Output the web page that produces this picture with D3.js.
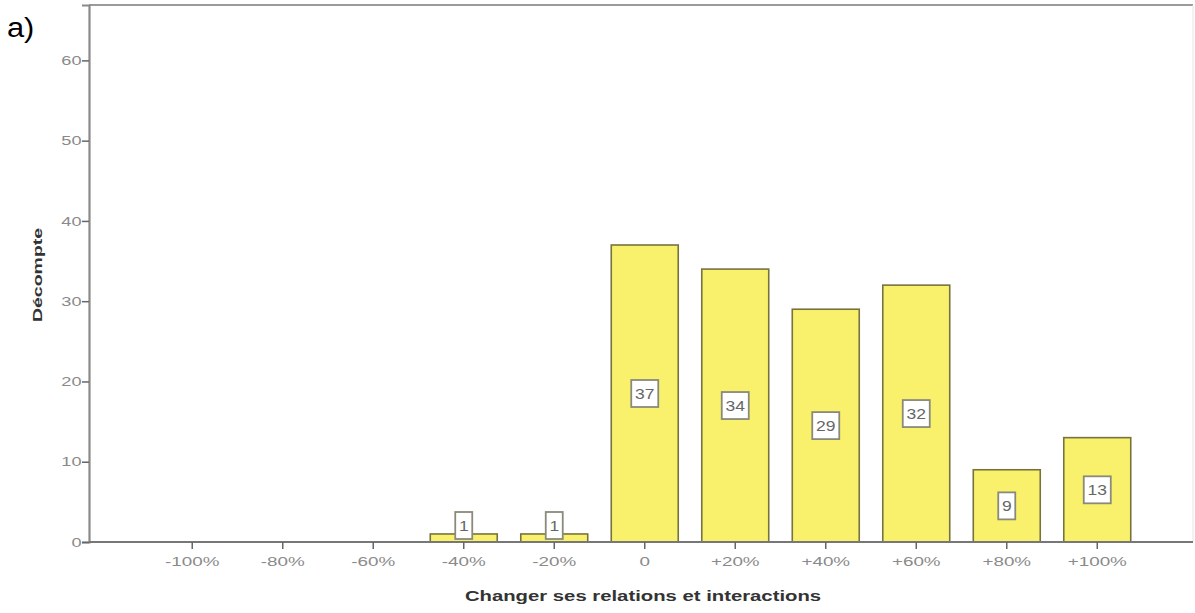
<!DOCTYPE html>
<html><head><meta charset="utf-8">
<script src="https://cdn.jsdelivr.net/npm/d3@7"></script>
<style>body{margin:0;background:#fff;} svg{display:block;font-family:Arial, "Liberation Sans", sans-serif;}</style>
</head><body>
<script>
const categories = ["-100%","-80%","-60%","-40%","-20%","0","+20%","+40%","+60%","+80%","+100%"];
const counts = [0,0,0,1,1,37,34,29,32,9,13];
const yTicks = [0,10,20,30,40,50,60];
const xTitle = "Changer ses relations et interactions";
const yTitle = "Décompte";
const panelLabel = "a)";

const W = 1195, H = 613;
const plot = {left: 89, right: 1193, top: 5, bottom: 542};
const SX = 1.45; // horizontal stretch of text seen in the reference
const svg = d3.select("body").append("svg").attr("width", W).attr("height", H);

const y = d3.scaleLinear().domain([0, 66.9]).range([plot.bottom, plot.top]);
const x = d3.scaleBand().domain(categories).range([113.5, 1176]).paddingInner(0.26).paddingOuter(0.5);

// frame
svg.append("line").attr("x1", plot.left).attr("x2", plot.right).attr("y1", plot.top).attr("y2", plot.top)
  .attr("stroke", "#9a9a9a").attr("stroke-width", 2);
svg.append("line").attr("x1", plot.right).attr("x2", plot.right).attr("y1", plot.top).attr("y2", plot.bottom)
  .attr("stroke", "#e6e6e6").attr("stroke-width", 1);

// bars
const data = counts.map((v,i)=>({c:categories[i], v}));
svg.append("g").selectAll("rect.bar").data(data.filter(d=>d.v>0)).join("rect").attr("class","bar")
  .attr("x", d=>x(d.c)).attr("width", x.bandwidth())
  .attr("y", d=>y(d.v)).attr("height", d=>y(0)-y(d.v))
  .attr("fill", "#f9f06c").attr("stroke", "#77733e").attr("stroke-width", 1.6);

// y axis
const yAxis = svg.append("g").attr("transform", `translate(${plot.left},0)`)
  .call(d3.axisLeft(y).tickValues(yTicks).tickSize(7).tickPadding(0));
yAxis.select(".domain").attr("stroke", "#8a8a8a").attr("stroke-width", 2.2);
yAxis.selectAll(".tick line").attr("stroke", "#666").attr("stroke-width", 1.5);
yAxis.selectAll(".tick text").attr("fill", "#8a8a8a").attr("font-size", 13).attr("font-family", "Arial, sans-serif")
  .attr("x", -7.5 / 1.4).attr("transform", "scale(1.4,1)");

// x axis
const xAxis = svg.append("g").attr("transform", `translate(0,${plot.bottom})`)
  .call(d3.axisBottom(x).tickSize(7).tickPadding(8));
xAxis.select(".domain").attr("d", `M${plot.left},0H${plot.right}`).attr("stroke", "#777").attr("stroke-width", 2);
xAxis.selectAll(".tick line").attr("stroke", "#666").attr("stroke-width", 1.5);
xAxis.selectAll(".tick text").attr("fill", "#8a8a8a").attr("font-size", 13).attr("font-family", "Arial, sans-serif")
  .attr("transform", `scale(${SX},1)`);

// value labels
const lab = svg.append("g");
data.filter(d=>d.v>0).forEach(d=>{
  const cx = x(d.c) + x.bandwidth()/2;
  const txt = String(d.v);
  const bw = txt.length > 1 ? 27 : 17;
  const bh = 27;
  let cy = (y(0) + y(d.v)) / 2;
  cy = Math.min(cy, plot.bottom - bh/2 - 3);
  lab.append("rect").attr("x", cx - bw/2).attr("y", cy - bh/2).attr("width", bw).attr("height", bh)
    .attr("fill", "#fff").attr("stroke", "#8a8a7a").attr("stroke-width", 1.8);
  lab.append("text").attr("transform", `translate(${cx},${cy}) scale(1.25,1)`).attr("dy", "0.36em").attr("text-anchor", "middle")
    .attr("font-size", 14).attr("fill", "#666").text(txt);
});

// titles
svg.append("text").attr("transform", `translate(${(plot.left + plot.right)/2 + 2},601) scale(${SX},1)`).attr("text-anchor", "middle")
  .attr("font-size", 14).attr("font-weight", "bold").attr("fill", "#333").text(xTitle);
svg.append("text").attr("transform", "translate(42,275) rotate(-90) scale(1.5,1)").attr("text-anchor", "middle")
  .attr("font-size", 13).attr("font-weight", "bold").attr("fill", "#333").text(yTitle);
svg.append("text").attr("transform", "translate(7,37) scale(1.1,1)").attr("font-size", 28).attr("fill", "#000").text(panelLabel);
</script>
</body></html>
